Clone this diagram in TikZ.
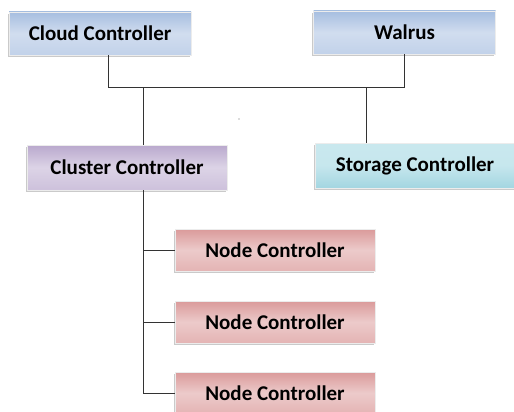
\documentclass[tikz,border=0pt]{standalone}
\usepackage{fontspec}
\setmainfont{Carlito}
\usetikzlibrary{shadows}
\definecolor{bluedark}{HTML}{A6BEE0}
\definecolor{bluelight}{HTML}{E3EAF5}
\definecolor{purpdark}{HTML}{B9A8CD}
\definecolor{purplight}{HTML}{EBE6F1}
\definecolor{tealdark}{HTML}{A3D6E1}
\definecolor{teallight}{HTML}{E3F4F7}
\definecolor{reddark}{HTML}{DA9A9A}
\definecolor{redlight}{HTML}{F6E4E4}
\definecolor{linecol}{HTML}{333333}
\tikzset{
  box/.style={rectangle, minimum width=182pt, minimum height=43pt, inner sep=0pt,
    font=\fontsize{21}{24}\selectfont\bfseries, text=black,
    draw=white!85!gray, line width=0.4pt,
    drop shadow={shadow xshift=-1.5pt, shadow yshift=-2pt, fill=gray!70, opacity=0.6}},
  bluebox/.style={box, top color=bluedark, bottom color=bluedark!55!bluelight, middle color=bluedark!30!bluelight},
  purpbox/.style={box, top color=purpdark, bottom color=purpdark!60!purplight, middle color=purpdark!30!purplight, minimum width=200pt, minimum height=45pt},
  tealbox/.style={box, top color=tealdark!40!teallight, bottom color=tealdark, middle color=tealdark!45!teallight, minimum width=200pt, minimum height=45pt},
  redbox/.style={box, top color=reddark, bottom color=reddark!65!redlight, middle color=reddark!35!redlight, minimum width=200pt, minimum height=42pt},
  conn/.style={draw=linecol, line width=0.8pt}
}
\begin{document}
\begin{tikzpicture}[x=1pt, y=-1pt]
\useasboundingbox (0,0) rectangle (514,412);
\clip (0,0) rectangle (514,412);
\node[bluebox] (cloud) at (100,33.5) {Cloud Controller};
\node[bluebox] (walrus) at (404.5,32.5) {Walrus};
\node[purpbox] (cluster) at (127,167.5) {Cluster Controller};
\node[tealbox] (storage) at (415,165.5) {Storage Controller};
\node[redbox] (nc1) at (275,250) {Node Controller};
\node[redbox] (nc2) at (275,322) {Node Controller};
\node[redbox] (nc3) at (275,393) {Node Controller};
\coordinate (bus) at (0,87);
\coordinate (cA) at ([xshift=8pt]cloud.south);
\coordinate (clN) at ([xshift=16pt]cluster.north);
\coordinate (clS) at ([xshift=16pt]cluster.south);
\coordinate (stN) at ([xshift=-49pt]storage.north);
\draw[conn] (cA) |- (walrus.south |- bus) -- (walrus.south);
\draw[conn] (clN) -- (clN |- bus);
\draw[conn] (stN) -- (stN |- bus);
\draw[conn] (clS) |- (nc3.west);
\draw[conn] (clS |- nc1.west) -- (nc1.west);
\draw[conn] (clS |- nc2.west) -- (nc2.west);
\fill[gray!80!black] (239,119) circle (0.6pt);
\end{tikzpicture}
\end{document}
